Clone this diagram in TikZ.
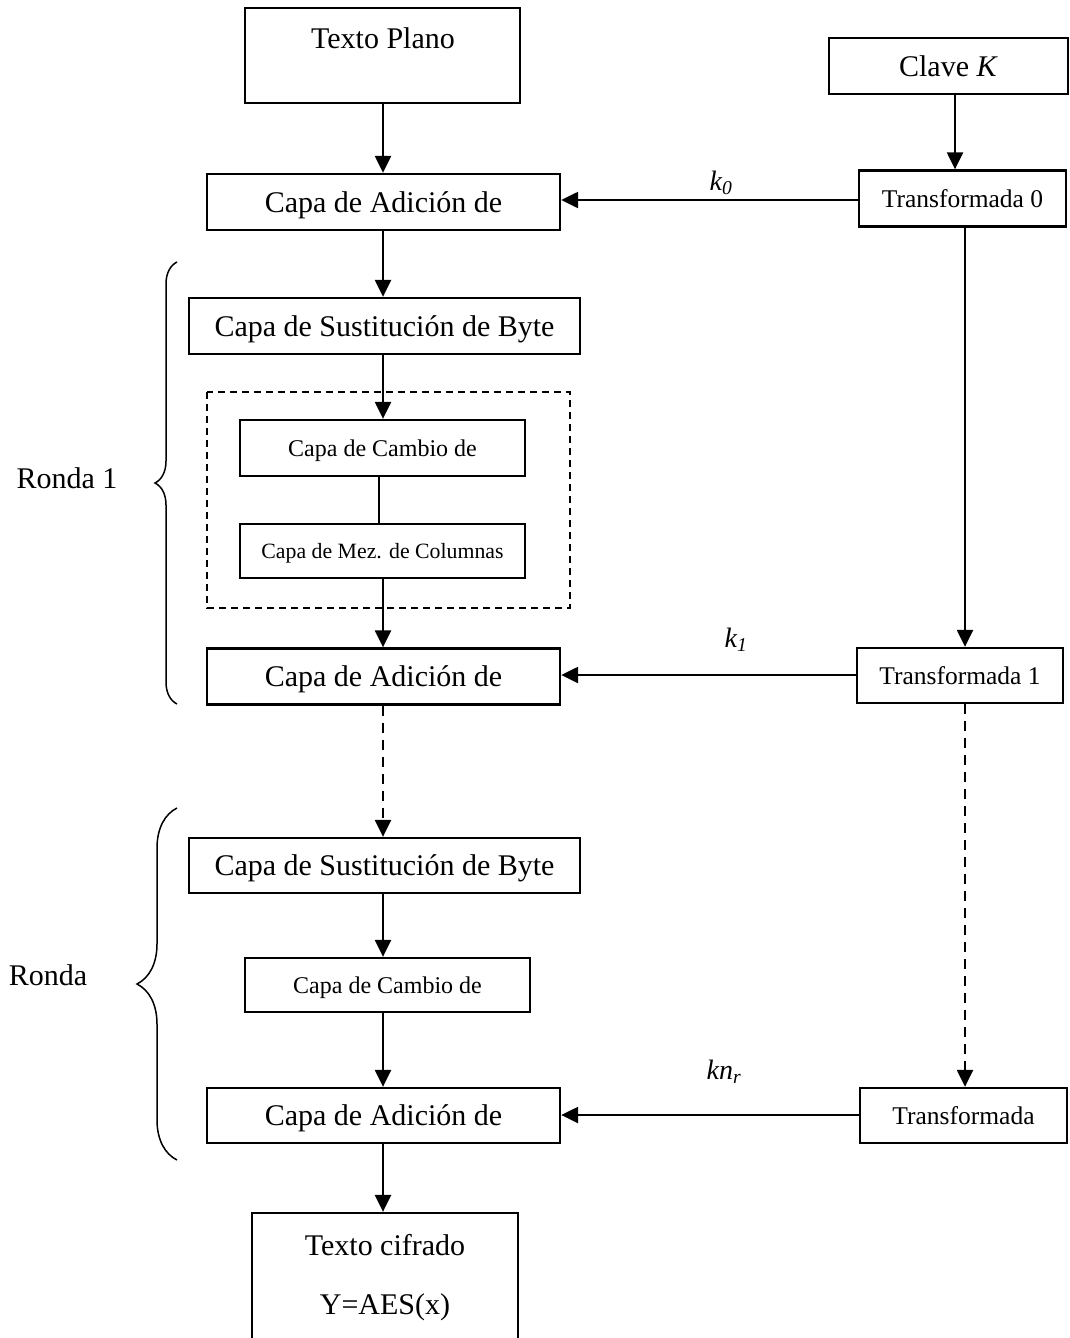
\documentclass[tikz,border=0pt]{standalone}
\usepackage{fontspec}
\setmainfont{Liberation Serif}
\usetikzlibrary{arrows.meta,decorations.pathreplacing}
\begin{document}
\begin{tikzpicture}[x=1pt,y=-1pt,
  box/.style={draw, line width=2.3pt, inner sep=0pt, text depth=0pt,
    font=\fontsize{30}{36}\selectfont},
  bigbox/.style={box, minimum width=353pt, minimum height=56pt},
  trbox/.style={box, minimum width=207pt, minimum height=56pt, font=\fontsize{25.5}{30}\selectfont},
  lbl/.style={inner sep=0pt, font=\fontsize{30}{36}\selectfont},
  klbl/.style={inner sep=0pt, font=\fontsize{28}{32}\selectfont\itshape},
  arr/.style={line width=2.3pt, -{Triangle[width=16pt,length=17pt]}},
  darr/.style={arr, dash pattern=on 10pt off 7pt},
  thin/.style={line width=1.3pt},
  brc/.style={line width=1.5pt, decorate, decoration={brace, amplitude=#1}}
]
\useasboundingbox (0,0) rectangle (1070,1338);

% input and key
\node[box, minimum width=275pt, minimum height=95pt] (plano) at (382.5,55.5) {};
\node[lbl] (planotxt) at (383,38) {Texto Plano};
\node[box, minimum width=239pt, minimum height=56pt] (clave) at (948.5,66) {Clave \textit{K}};

% initial key addition
\node[bigbox] (add0) at (383.5,202) {Capa de Adición de};
\node[trbox] (tr0) at (962.5,198.5) {Transformada 0};

% round 1
\node[box, minimum width=391pt, minimum height=56pt] (sub1) at (384.5,326) {Capa de Sustitución de Byte};
\draw[line width=1.7pt, dash pattern=on 7pt off 5pt] (207,392) rectangle (570,608);
\node[box, minimum width=285pt, minimum height=56pt, font=\fontsize{24}{28}\selectfont] (shift1) at (382.5,448) {Capa de Cambio de};
\node[box, minimum width=285pt, minimum height=54pt, font=\fontsize{21.8}{26}\selectfont] (mix1) at (382.5,551) {Capa de Mez. de Columnas};
\node[bigbox] (add1) at (383.5,676.5) {Capa de Adición de};
\node[trbox, minimum width=206pt, minimum height=55pt] (tr1) at (960,675.5) {Transformada 1};

% last round
\node[box, minimum width=391pt, minimum height=55pt] (sub2) at (384.5,865.5) {Capa de Sustitución de Byte};
\node[box, minimum width=285pt, minimum height=54pt, font=\fontsize{24}{28}\selectfont] (shift2) at (387.5,985) {Capa de Cambio de};
\node[bigbox, minimum height=55pt] (add2) at (383.5,1115.5) {Capa de Adición de};
\node[trbox, minimum height=55pt] (trn) at (963.5,1115.5) {Transformada};

% output
\node[box, minimum width=266pt, minimum height=134pt] (cif) at (385,1280) {};
\node[lbl] (ciftxt1) at (385,1245) {Texto cifrado};
\node[lbl] (ciftxt2) at (385,1307) {Y=AES(x)};

% round braces and labels
\draw[brc=22pt] (177,704) -- (177,262);
\draw[brc=40pt] (177,1160) -- (177,808);
\node[lbl] (r1) at (67,478) {Ronda 1};
\node[lbl] (rn) at (48,975) {Ronda};

% data path
\draw[arr] (plano.south -| 383,0) -- (add0.north -| 383,0);
\draw[arr] (add0.south -| 383,0) -- (sub1.north -| 383,0);
\draw[arr] (sub1.south -| 383,0) -- (shift1.north -| 383,0);
\draw[thin] (shift1.south -| 379,0) -- (mix1.north -| 379,0);
\draw[arr] (mix1.south -| 383,0) -- (add1.north -| 383,0);
\draw[darr] (add1.south -| 383,0) -- (sub2.north -| 383,0);
\draw[arr] (sub2.south -| 383,0) -- (shift2.north -| 383,0);
\draw[arr] (shift2.south -| 383,0) -- (add2.north -| 383,0);
\draw[arr] (add2.south -| 383,0) -- (cif.north -| 383,0);

% key schedule
\draw[arr] (clave.south -| 955,0) -- (tr0.north -| 955,0);
\draw[arr] (tr0.south -| 965,0) -- (tr1.north -| 965,0);
\draw[darr] (tr1.south -| 965,0) -- (trn.north -| 965,0);

% round keys
\draw[arr] (tr0.west |- 0,200) -- (add0.east |- 0,200);
\draw[arr] (tr1.west |- 0,675) -- (add1.east |- 0,675);
\draw[arr] (trn.west |- 0,1115) -- (add2.east |- 0,1115);
\node[klbl] (k0) at (721,183) {k\textsubscript{0}};
\node[klbl] (k1) at (736,640) {k\textsubscript{1}};
\node[klbl] (kn) at (724,1072) {kn\textsubscript{r}};
\end{tikzpicture}
\end{document}
